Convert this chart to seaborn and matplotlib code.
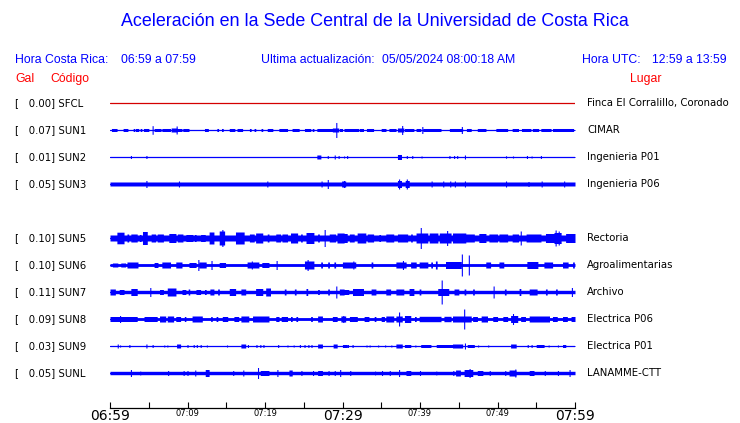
import numpy as np
import pandas as pd
import matplotlib
matplotlib.use("Agg")
import matplotlib.pyplot as plt
import matplotlib.transforms as mtransforms
import seaborn as sns

# estaciones (fila 4 vacia, SUN4 no reporta)
codes = ["SFCL", "SUN1", "SUN2", "SUN3", "SUN5", "SUN6", "SUN7", "SUN8", "SUN9", "SUNL"]
gal = [0.00, 0.07, 0.01, 0.05, 0.10, 0.10, 0.11, 0.09, 0.03, 0.05]
places = ["Finca El Corralillo, Coronado", "CIMAR", "Ingenieria P01", "Ingenieria P06",
          "Rectoria", "Agroalimentarias", "Archivo", "Electrica P06", "Electrica P01", "LANAMME-CTT"]
rows = [0, 1, 2, 3, 5, 6, 7, 8, 9, 10]

tick_minutes = list(range(0, 61, 5))
tick_labels = ["06:59", "", "07:09", "", "07:19", "", "07:29", "", "07:39", "", "07:49", "", "07:59"]
big_labels = ["06:59", "07:29", "07:59"]

# envolvente de cada traza (unidades: 27 = separacion entre filas)
base_amp = [0.0, 0.5, 0.5, 2.0, 3.0, 1.4, 1.7, 1.4, 0.5, 1.7]

# rafagas: (minuto inicio, minuto fin, amplitud)
SUN1_BURSTS = [(0.3, 0.8, 1.5), (1.8, 2.2, 1.5), (3.1, 3.1, 1.5), (3.4, 3.4, 1.5), (3.6, 3.6, 1.5),
               (4.0, 4.0, 1.5), (4.4, 4.9, 1.5), (5.8, 6.5, 1.5), (6.8, 7.7, 1.5), (8.0, 8.6, 2.0),
               (8.8, 9.2, 1.5), (9.5, 10.1, 1.5), (12.3, 12.6, 1.5), (13.9, 13.9, 1.5), (14.5, 14.5, 1.5),
               (15.5, 16.0, 1.5), (16.5, 17.0, 1.5), (18.1, 18.1, 1.5), (18.7, 18.7, 1.5), (19.6, 19.6, 1.5),
               (20.4, 20.9, 1.5), (21.9, 22.8, 1.5), (23.6, 24.3, 1.5), (25.2, 25.8, 1.5), (26.2, 26.2, 1.5),
               (26.8, 28.6, 1.5), (28.8, 29.4, 2.0), (29.7, 29.9, 1.5), (30.3, 32.0, 1.5), (32.3, 32.6, 1.5),
               (33.2, 33.9, 1.5), (35.1, 35.5, 1.5), (36.1, 36.8, 1.5), (37.2, 37.8, 2.0), (38.1, 39.1, 1.5),
               (39.6, 40.0, 1.5), (40.5, 42.6, 1.5), (43.9, 45.4, 1.5), (46.1, 46.5, 1.5), (47.5, 48.4, 1.5),
               (49.9, 51.2, 1.5), (52.0, 52.6, 1.5), (53.2, 54.2, 1.5), (54.6, 55.2, 1.5), (55.7, 56.8, 1.5),
               (57.2, 59.7, 1.5)]
SUN1_SPIKES = [(5.5, 4.3), (8.6, 4.0), (29.2, 7.5), (37.7, 4.5), (40.3, 3.5), (45.4, 3.5)]

SUN2_BURSTS = [(26.8, 27.1, 2.0), (37.2, 37.5, 2.5)]
SUN2_SPIKES = [(2.7, 1.5), (4.7, 1.5), (28.1, 1.5), (29.0, 2.0), (29.5, 1.5), (30.2, 1.0), (30.6, 1.5),
               (38.3, 1.5), (39.0, 1.5), (40.2, 1.0), (43.8, 1.5), (44.4, 1.5), (44.8, 1.5), (45.8, 2.0),
               (51.1, 1.2), (52.0, 1.0), (53.8, 1.5), (54.4, 1.0), (55.6, 1.5)]

SUN3_BURSTS = [(30.0, 30.3, 3.0), (37.2, 37.5, 3.5), (38.2, 38.5, 3.5)]
SUN3_SPIKES = [(4.7, 3.5), (8.9, 3.0), (20.3, 3.0), (27.3, 3.0), (28.1, 4.5), (30.2, 3.5), (37.3, 5.0),
               (38.3, 5.0), (41.5, 3.0), (43.0, 3.0), (43.9, 3.0), (44.5, 3.0), (45.8, 3.0), (51.1, 3.0),
               (54.0, 2.5), (55.7, 3.0), (58.6, 3.0)]

SUN5_BURSTS = [(1.0, 1.7, 5.8), (2.3, 2.3, 4.0), (2.8, 3.4, 4.0), (3.9, 3.9, 3.5), (4.3, 4.7, 6.5),
               (5.4, 5.8, 4.0), (6.2, 6.8, 4.0), (7.7, 8.4, 4.5), (8.8, 9.3, 4.0), (9.9, 10.6, 3.5),
               (11.0, 11.0, 3.5), (11.8, 12.2, 3.5), (12.9, 13.3, 6.0), (14.2, 14.7, 7.0), (16.3, 17.2, 6.0),
               (18.1, 18.5, 4.0), (18.9, 19.6, 5.0), (20.4, 20.4, 4.0), (21.5, 21.9, 4.0), (22.3, 22.8, 4.0),
               (23.4, 24.1, 5.0), (24.7, 24.7, 4.0), (25.4, 26.2, 5.5), (26.9, 26.9, 4.0), (28.4, 29.0, 4.0),
               (29.4, 30.1, 5.0), (30.1, 30.5, 4.5), (31.0, 31.4, 4.0), (32.0, 32.9, 5.0), (33.3, 33.9, 4.0),
               (34.8, 34.8, 3.5), (35.7, 36.5, 4.0), (37.2, 38.3, 4.0), (38.9, 38.9, 4.0), (39.6, 40.9, 5.0),
               (41.3, 42.2, 5.0), (42.6, 43.9, 5.0), (44.3, 45.8, 5.0), (46.0, 46.9, 4.0), (47.7, 48.4, 4.5),
               (49.0, 49.9, 4.0), (50.3, 51.2, 4.0), (52.0, 52.6, 4.0), (53.8, 55.5, 4.0), (56.3, 57.2, 4.5),
               (57.4, 58.1, 5.5), (58.9, 60.0, 4.5)]
SUN5_SPIKES = [(14.5, 8.5), (27.7, 8.5), (40.1, 10.5), (43.5, 7.5), (53.0, 7.0), (57.5, 8.0), (57.9, 7.0)]

SUN6_BURSTS = [(0.4, 0.9, 2.0), (1.5, 1.9, 2.0), (2.3, 3.5, 3.0), (5.8, 6.1, 2.5), (6.8, 7.7, 3.0),
               (8.6, 9.2, 3.0), (10.3, 11.0, 2.5), (11.6, 12.3, 3.0), (14.2, 14.8, 2.5), (17.8, 19.1, 3.0),
               (19.7, 20.4, 2.5), (25.2, 25.8, 4.0), (26.0, 26.2, 4.0), (27.3, 27.3, 3.0), (28.2, 28.2, 3.0),
               (29.0, 29.0, 3.0), (30.1, 31.6, 3.0), (33.8, 33.8, 3.0), (37.0, 38.1, 3.0), (38.9, 39.4, 3.0),
               (40.0, 40.9, 3.0), (41.5, 41.5, 3.0), (42.1, 42.1, 4.0), (43.4, 45.2, 3.5), (48.6, 49.0, 3.0),
               (50.3, 50.7, 3.0), (53.9, 55.1, 3.5), (56.1, 57.0, 3.0), (58.5, 59.0, 3.0), (59.8, 59.8, 3.0)]
SUN6_SPIKES = [(11.4, 5.5), (13.1, 4.5), (18.3, 4.0), (21.5, 4.5), (25.5, 5.5), (31.4, 4.0), (37.8, 4.5),
               (45.4, 11.0), (46.3, 10.0)]

SUN7_BURSTS = [(0.0, 0.6, 3.0), (1.3, 1.7, 2.5), (2.8, 3.4, 3.5), (6.5, 6.8, 2.5), (7.5, 8.4, 4.0),
               (9.4, 9.7, 2.5), (10.2, 10.2, 3.0), (11.2, 11.6, 2.5), (12.3, 12.3, 2.5), (13.0, 13.3, 3.0),
               (14.0, 14.0, 3.0), (15.5, 16.1, 3.5), (17.0, 17.4, 3.0), (18.9, 19.6, 3.5), (20.2, 20.6, 4.0),
               (22.6, 22.6, 3.0), (23.9, 23.9, 3.0), (25.4, 25.4, 3.5), (26.9, 26.9, 2.5), (28.2, 28.2, 3.0),
               (29.7, 30.1, 3.0), (30.3, 30.7, 2.5), (31.4, 32.6, 3.5), (33.8, 34.2, 3.0), (35.7, 36.1, 3.0),
               (37.0, 37.8, 3.0), (38.7, 39.1, 3.5), (40.0, 40.0, 3.0), (42.4, 43.6, 3.5), (44.5, 44.9, 3.0),
               (45.8, 45.8, 3.0), (46.9, 46.9, 3.0), (51.0, 51.0, 3.0), (52.9, 52.9, 3.5), (54.2, 55.0, 3.0),
               (56.3, 56.3, 3.0), (57.6, 57.6, 3.0)]
SUN7_SPIKES = [(5.2, 4.5), (29.2, 6.0), (42.8, 12.0), (49.5, 6.0), (59.6, 4.5)]

SUN8_BURSTS = [(0.0, 3.4, 2.5), (4.5, 5.2, 2.5), (5.4, 6.0, 2.5), (6.5, 7.1, 3.0), (7.5, 8.1, 3.0),
               (8.6, 9.0, 2.5), (9.7, 9.7, 2.5), (10.7, 11.8, 3.0), (13.1, 13.1, 2.5), (13.8, 13.8, 2.5),
               (14.6, 15.1, 2.5), (16.1, 16.5, 2.5), (17.0, 17.8, 3.0), (18.5, 20.4, 3.0), (21.5, 21.7, 2.5),
               (22.2, 22.8, 2.5), (23.4, 23.4, 2.5), (24.1, 24.1, 2.5), (26.0, 26.0, 2.5), (26.9, 27.3, 3.0),
               (28.8, 29.2, 2.5), (29.9, 30.3, 3.0), (31.0, 31.8, 2.5), (32.9, 33.3, 2.5), (34.2, 34.2, 2.5),
               (35.1, 35.3, 2.5), (35.7, 36.5, 3.0), (37.0, 37.6, 3.0), (38.1, 38.7, 3.5), (39.4, 39.4, 2.5),
               (40.0, 42.6, 2.7), (43.2, 43.9, 2.7), (44.3, 46.5, 3.0), (46.9, 47.3, 2.5), (48.0, 48.6, 3.0),
               (49.5, 49.9, 2.5), (50.8, 51.2, 2.5), (51.8, 52.5, 3.5), (53.1, 53.5, 2.5), (54.2, 56.6, 3.0),
               (57.2, 57.6, 2.5), (58.5, 58.9, 2.5), (59.6, 60.0, 2.5)]
SUN8_SPIKES = [(1.3, 3.5), (30.1, 3.5), (37.3, 7.0), (45.7, 10.0), (52.0, 5.5)]

SUN9_BURSTS = [(8.7, 9.0, 2.0), (17.0, 17.4, 2.0), (26.9, 27.3, 2.0), (28.9, 29.2, 2.0), (30.1, 30.5, 1.5),
               (37.0, 37.6, 2.0), (38.1, 38.7, 1.5), (40.2, 41.3, 1.5), (42.2, 44.1, 1.5), (44.3, 45.4, 2.0),
               (46.2, 46.9, 1.5), (51.8, 52.3, 2.0), (55.1, 55.9, 1.5), (58.5, 58.7, 1.5)]
SUN9_SPIKES = [(1.0, 2.0), (1.3, 1.0), (2.5, 1.5), (4.7, 2.0), (5.5, 1.5), (7.0, 1.0), (7.4, 1.0),
               (10.0, 1.5), (10.8, 1.5), (11.2, 1.5), (11.7, 1.5), (12.5, 1.0), (15.1, 1.0), (17.8, 1.5),
               (18.9, 1.5), (19.4, 1.5), (19.8, 1.5), (21.7, 1.5), (22.9, 1.0), (23.7, 1.0), (24.5, 1.5),
               (25.1, 1.5), (25.6, 1.5), (26.0, 1.5), (30.7, 1.5), (31.3, 1.5), (33.1, 1.0), (33.5, 1.0),
               (34.6, 1.0), (35.5, 1.0), (36.3, 1.0), (39.4, 1.0), (45.8, 3.0), (47.5, 1.0), (48.8, 1.0),
               (53.9, 1.5), (54.4, 1.5), (56.6, 1.0), (57.8, 1.0)]

SUNL_BURSTS = [(12.4, 12.7, 3.5), (19.5, 20.4, 2.5), (23.2, 23.4, 3.0), (26.9, 27.3, 2.5), (38.3, 38.7, 2.5),
               (44.7, 45.1, 3.0), (45.8, 46.7, 3.5), (47.5, 48.0, 2.5), (51.6, 52.3, 3.0), (54.2, 54.6, 2.5)]
SUNL_SPIKES = [(2.7, 3.5), (3.9, 2.0), (7.5, 2.5), (9.5, 2.5), (10.0, 2.5), (11.0, 3.0), (15.9, 2.5),
               (17.2, 3.0), (19.1, 5.5), (21.6, 3.5), (24.7, 2.5), (26.2, 2.5), (28.2, 2.5), (29.0, 2.5),
               (29.7, 3.5), (31.0, 2.5), (34.2, 2.0), (35.1, 2.5), (36.1, 2.5), (37.3, 3.5), (40.0, 2.5),
               (42.1, 2.0), (44.3, 2.5), (46.4, 4.5), (49.0, 2.5), (51.0, 2.5), (52.3, 4.0), (56.1, 2.5),
               (57.8, 2.5), (59.3, 3.5)]

bursts = [[], SUN1_BURSTS, SUN2_BURSTS, SUN3_BURSTS, SUN5_BURSTS, SUN6_BURSTS,
          SUN7_BURSTS, SUN8_BURSTS, SUN9_BURSTS, SUNL_BURSTS]
spikes = [[], SUN1_SPIKES, SUN2_SPIKES, SUN3_SPIKES, SUN5_SPIKES, SUN6_SPIKES,
          SUN7_SPIKES, SUN8_SPIKES, SUN9_SPIKES, SUNL_SPIKES]

ROW_SPACING = 27.0
BLUE = "#0000ff"
RED = "#ff0000"

sns.set_theme(style="white")
plt.rcParams["font.family"] = ["DejaVu Sans"]

W, H = 740, 423
fig = plt.figure(figsize=(W / 100, H / 100), dpi=100)
ax = fig.add_axes([110 / W, 1 - 408 / H, 465 / W, (408 - 90) / H])

# lineas centrales con seaborn
line_df = pd.DataFrame({
    "minuto": [0, 60] * len(codes),
    "fila": [r for r in rows for _ in range(2)],
    "codigo": [c for c in codes for _ in range(2)],
})
pal = {c: ("#d40000" if c == "SFCL" else BLUE) for c in codes}
sns.lineplot(data=line_df, x="minuto", y="fila", hue="codigo", palette=pal,
             linewidth=0.9, legend=False, ax=ax, estimator=None, units="codigo")

# envolventes
t = np.linspace(0, 60, 3001)
for i, r in enumerate(rows):
    if i == 0:
        continue
    env = np.full_like(t, base_amp[i])
    for s, e, a in bursts[i]:
        m = (t >= s - 0.1) & (t <= e + 0.1)
        env[m] = np.maximum(env[m], a)
    for m0, a in spikes[i]:
        m = np.abs(t - m0) <= 0.07
        env[m] = np.maximum(env[m], a)
    env = env / ROW_SPACING
    ax.fill_between(t, r - env, r + env, color=BLUE, linewidth=0, step="mid")

ax.set_xlim(0, 60)
ax.set_ylim(11.296, -0.481)
ax.set_yticks([])
ax.set_xlabel("")
ax.set_ylabel("")
sns.despine(ax=ax, left=True, top=True, right=True)
ax.spines["bottom"].set_color("black")
ax.spines["bottom"].set_linewidth(0.9)
ax.set_xticks(tick_minutes)
ax.set_xticklabels(tick_labels)
ax.tick_params(axis="x", direction="in", length=4, width=0.8, color="black", pad=1,
               bottom=True, colors="black")
for lab in ax.get_xticklabels():
    if lab.get_text() in big_labels:
        lab.set_fontsize(10)
    else:
        lab.set_fontsize(6)

# textos de filas
trans = mtransforms.blended_transform_factory(fig.transFigure, ax.transData)
for i, r in enumerate(rows):
    ax.text(15 / W, r, "[   %.2f] %s" % (gal[i], codes[i]), transform=trans,
            fontsize=7.3, va="center", ha="left", color="black")
    ax.text(587 / W, r, places[i], transform=trans,
            fontsize=7.3, va="center", ha="left", color="black")

hel = ["Liberation Sans", "DejaVu Sans"]
fig.text(375 / W, 1 - 22 / H, "Aceleración en la Sede Central de la Universidad de Costa Rica",
         ha="center", va="center", fontsize=12.9, color=BLUE, family=hel)
hy = 1 - 60 / H
for x, s in [(15, "Hora Costa Rica:"), (121, "06:59 a 07:59"), (261, "Ultima actualización:"),
             (382, "05/05/2024 08:00:18 AM"), (582, "Hora UTC:"), (652, "12:59 a 13:59")]:
    fig.text(x / W, hy, s, ha="left", va="center", fontsize=8.8, color=BLUE, family=hel)
ry = 1 - 79 / H
for x, s in [(15, "Gal"), (50, "Código"), (630, "Lugar")]:
    fig.text(x / W, ry, s, ha="left", va="center", fontsize=8.8, color=RED, family=hel)

fig.savefig("out.png", dpi=100, facecolor="white")
